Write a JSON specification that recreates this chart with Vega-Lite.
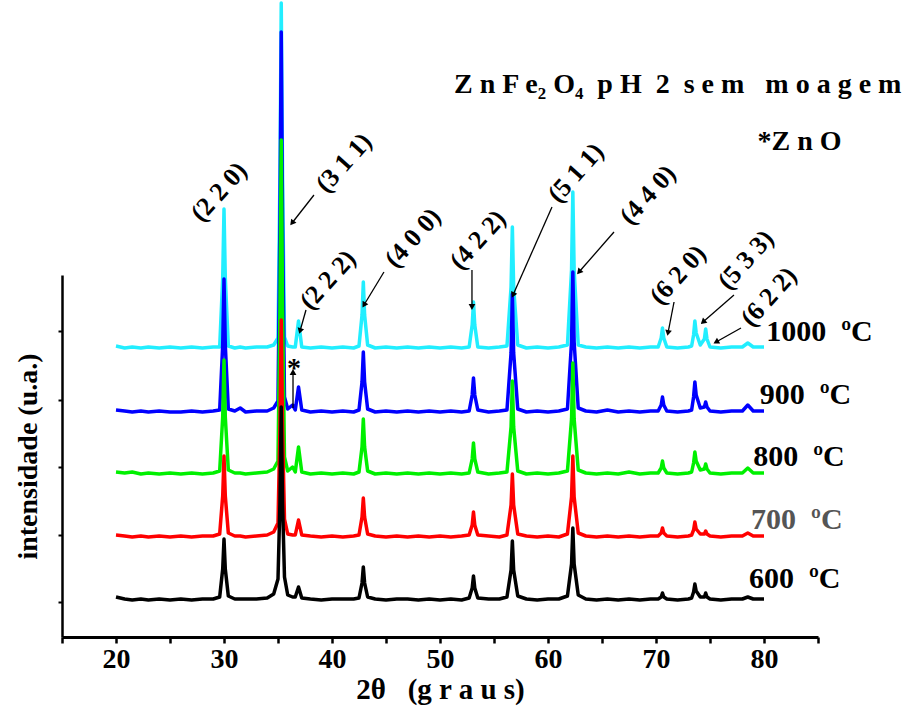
{
  "$schema": "https://vega.github.io/schema/vega-lite/v6.json",
  "width": 756,
  "height": 362,
  "autosize": {"type": "none"},
  "padding": {"left": 62, "top": 275, "right": 98, "bottom": 76},
  "background": "white",
  "config": {
    "view": {"stroke": null},
    "font": "Liberation Serif",
    "axisY": {
      "labels": false, "grid": false,
      "domainColor": "black", "domainWidth": 2.5,
      "tickColor": "black", "tickWidth": 2, "tickSize": 4,
      "titleFont": "Liberation Serif", "titleFontSize": 28, "titleFontWeight": "bold", "titleColor": "black",
      "titlePadding": 15
    }
  },
  "datasets": {
    "xrd": [
      {"x": 20.0, "c": 291, "b": 227, "g": 165, "r": 102, "k": 40},
      {"x": 20.8, "c": 289, "b": 226, "g": 164, "r": 101, "k": 38},
      {"x": 21.5, "c": 290, "b": 225, "g": 165, "r": 100, "k": 37},
      {"x": 22.3, "c": 289, "b": 226, "g": 163, "r": 101, "k": 38},
      {"x": 23.0, "c": 290, "b": 225, "g": 164, "r": 100, "k": 37},
      {"x": 24.0, "c": 289, "b": 226, "g": 163, "r": 101, "k": 38},
      {"x": 25.0, "c": 290, "b": 225, "g": 164, "r": 100, "k": 37},
      {"x": 26.0, "c": 289, "b": 225, "g": 163, "r": 101, "k": 38},
      {"x": 27.0, "c": 290, "b": 226, "g": 164, "r": 100, "k": 37},
      {"x": 28.0, "c": 289, "b": 225, "g": 163, "r": 101, "k": 38},
      {"x": 29.0, "c": 290, "b": 226, "g": 164, "r": 101, "k": 38},
      {"x": 29.6, "c": 290, "b": 227, "g": 166, "r": 103, "k": 40},
      {"x": 29.88, "c": 359, "b": 292, "g": 220, "r": 141, "k": 68},
      {"x": 30.0, "c": 428, "b": 358, "g": 277, "r": 181, "k": 98},
      {"x": 30.12, "c": 359, "b": 292, "g": 220, "r": 141, "k": 68},
      {"x": 30.4, "c": 291, "b": 228, "g": 167, "r": 104, "k": 41},
      {"x": 31.0, "c": 289, "b": 226, "g": 164, "r": 101, "k": 38},
      {"x": 31.5, "c": 290, "b": 229, "g": 164, "r": 101, "k": 38},
      {"x": 32.0, "c": 289, "b": 225, "g": 163, "r": 100, "k": 38},
      {"x": 33.0, "c": 290, "b": 226, "g": 164, "r": 101, "k": 38},
      {"x": 34.0, "c": 290, "b": 226, "g": 165, "r": 102, "k": 39},
      {"x": 34.6, "c": 292, "b": 229, "g": 168, "r": 105, "k": 43},
      {"x": 35.0, "c": 299, "b": 236, "g": 176, "r": 114, "k": 58},
      {"x": 35.18, "c": 461, "b": 415, "g": 330, "r": 208, "k": 134},
      {"x": 35.3, "c": 634, "b": 605, "g": 497, "r": 317, "k": 230},
      {"x": 35.42, "c": 461, "b": 415, "g": 330, "r": 208, "k": 134},
      {"x": 35.6, "c": 300, "b": 240, "g": 180, "r": 118, "k": 60},
      {"x": 35.9, "c": 291, "b": 228, "g": 166, "r": 103, "k": 42},
      {"x": 36.35, "c": 290, "b": 232, "g": 170, "r": 102, "k": 40},
      {"x": 36.6, "c": 290, "b": 227, "g": 165, "r": 102, "k": 40},
      {"x": 36.9, "c": 316, "b": 250, "g": 190, "r": 117, "k": 50},
      {"x": 37.2, "c": 290, "b": 227, "g": 165, "r": 102, "k": 39},
      {"x": 38.0, "c": 289, "b": 225, "g": 163, "r": 101, "k": 38},
      {"x": 39.0, "c": 290, "b": 226, "g": 164, "r": 100, "k": 37},
      {"x": 40.0, "c": 289, "b": 225, "g": 163, "r": 101, "k": 38},
      {"x": 41.0, "c": 290, "b": 226, "g": 164, "r": 100, "k": 38},
      {"x": 42.0, "c": 289, "b": 225, "g": 163, "r": 101, "k": 38},
      {"x": 42.5, "c": 291, "b": 227, "g": 165, "r": 102, "k": 39},
      {"x": 42.78, "c": 322, "b": 255, "g": 190, "r": 120, "k": 54},
      {"x": 42.9, "c": 355, "b": 285, "g": 218, "r": 139, "k": 70},
      {"x": 43.02, "c": 322, "b": 255, "g": 190, "r": 120, "k": 54},
      {"x": 43.3, "c": 292, "b": 228, "g": 166, "r": 103, "k": 40},
      {"x": 44.0, "c": 289, "b": 225, "g": 163, "r": 101, "k": 38},
      {"x": 45.0, "c": 290, "b": 226, "g": 164, "r": 100, "k": 37},
      {"x": 46.0, "c": 289, "b": 225, "g": 163, "r": 101, "k": 38},
      {"x": 47.0, "c": 290, "b": 226, "g": 164, "r": 100, "k": 38},
      {"x": 48.0, "c": 289, "b": 225, "g": 163, "r": 101, "k": 37},
      {"x": 49.0, "c": 290, "b": 226, "g": 164, "r": 100, "k": 38},
      {"x": 50.0, "c": 289, "b": 225, "g": 163, "r": 101, "k": 37},
      {"x": 51.0, "c": 290, "b": 226, "g": 164, "r": 100, "k": 38},
      {"x": 52.0, "c": 289, "b": 225, "g": 163, "r": 101, "k": 37},
      {"x": 52.7, "c": 290, "b": 226, "g": 164, "r": 102, "k": 39},
      {"x": 52.98, "c": 312, "b": 242, "g": 178, "r": 112, "k": 49},
      {"x": 53.1, "c": 335, "b": 259, "g": 194, "r": 125, "k": 61},
      {"x": 53.22, "c": 312, "b": 242, "g": 178, "r": 112, "k": 49},
      {"x": 53.5, "c": 290, "b": 227, "g": 165, "r": 102, "k": 39},
      {"x": 54.5, "c": 289, "b": 225, "g": 163, "r": 101, "k": 38},
      {"x": 55.5, "c": 290, "b": 226, "g": 164, "r": 100, "k": 38},
      {"x": 56.2, "c": 291, "b": 227, "g": 165, "r": 102, "k": 40},
      {"x": 56.58, "c": 350, "b": 284, "g": 210, "r": 132, "k": 67},
      {"x": 56.7, "c": 410, "b": 343, "g": 256, "r": 163, "k": 96},
      {"x": 56.82, "c": 350, "b": 284, "g": 210, "r": 132, "k": 67},
      {"x": 57.2, "c": 292, "b": 228, "g": 166, "r": 103, "k": 41},
      {"x": 58.0, "c": 289, "b": 225, "g": 163, "r": 101, "k": 38},
      {"x": 59.0, "c": 290, "b": 226, "g": 164, "r": 100, "k": 37},
      {"x": 60.0, "c": 289, "b": 225, "g": 163, "r": 101, "k": 38},
      {"x": 61.0, "c": 290, "b": 226, "g": 164, "r": 100, "k": 38},
      {"x": 61.8, "c": 292, "b": 228, "g": 166, "r": 103, "k": 41},
      {"x": 62.18, "c": 367, "b": 295, "g": 218, "r": 140, "k": 73},
      {"x": 62.3, "c": 445, "b": 365, "g": 274, "r": 181, "k": 109},
      {"x": 62.42, "c": 367, "b": 295, "g": 218, "r": 140, "k": 73},
      {"x": 62.8, "c": 292, "b": 229, "g": 167, "r": 104, "k": 42},
      {"x": 63.5, "c": 290, "b": 226, "g": 164, "r": 101, "k": 38},
      {"x": 64.5, "c": 289, "b": 225, "g": 163, "r": 100, "k": 37},
      {"x": 65.5, "c": 290, "b": 227, "g": 164, "r": 101, "k": 38},
      {"x": 66.5, "c": 289, "b": 225, "g": 163, "r": 100, "k": 37},
      {"x": 67.5, "c": 290, "b": 226, "g": 165, "r": 101, "k": 38},
      {"x": 68.5, "c": 289, "b": 225, "g": 163, "r": 100, "k": 37},
      {"x": 69.5, "c": 290, "b": 226, "g": 164, "r": 101, "k": 38},
      {"x": 70.2, "c": 290, "b": 226, "g": 164, "r": 101, "k": 38},
      {"x": 70.48, "c": 299, "b": 232, "g": 169, "r": 104, "k": 40},
      {"x": 70.6, "c": 309, "b": 240, "g": 176, "r": 109, "k": 44},
      {"x": 70.72, "c": 299, "b": 232, "g": 169, "r": 104, "k": 40},
      {"x": 71.0, "c": 290, "b": 226, "g": 164, "r": 101, "k": 38},
      {"x": 72.0, "c": 289, "b": 225, "g": 163, "r": 100, "k": 37},
      {"x": 73.0, "c": 290, "b": 226, "g": 164, "r": 101, "k": 38},
      {"x": 73.3, "c": 291, "b": 227, "g": 165, "r": 102, "k": 39},
      {"x": 73.48, "c": 302, "b": 240, "g": 174, "r": 107, "k": 45},
      {"x": 73.6, "c": 316, "b": 255, "g": 185, "r": 115, "k": 53},
      {"x": 73.72, "c": 304, "b": 242, "g": 176, "r": 108, "k": 46},
      {"x": 74.1, "c": 292, "b": 229, "g": 167, "r": 103, "k": 40},
      {"x": 74.48, "c": 298, "b": 230, "g": 168, "r": 103, "k": 40},
      {"x": 74.6, "c": 308, "b": 235, "g": 173, "r": 106, "k": 44},
      {"x": 74.72, "c": 298, "b": 230, "g": 168, "r": 103, "k": 40},
      {"x": 75.0, "c": 290, "b": 226, "g": 164, "r": 101, "k": 38},
      {"x": 76.0, "c": 289, "b": 225, "g": 163, "r": 100, "k": 37},
      {"x": 77.0, "c": 290, "b": 226, "g": 164, "r": 101, "k": 38},
      {"x": 78.0, "c": 290, "b": 226, "g": 164, "r": 101, "k": 38},
      {"x": 78.5, "c": 294, "b": 232, "g": 169, "r": 104, "k": 40},
      {"x": 79.0, "c": 290, "b": 226, "g": 164, "r": 101, "k": 38},
      {"x": 80.0, "c": 290, "b": 226, "g": 164, "r": 101, "k": 38}
    ],
    "miller": [
      {"x": 29.54, "y": 445, "text": "(2 2 0)"},
      {"x": 41.11, "y": 474, "text": "(3 1 1)"},
      {"x": 39.63, "y": 357, "text": "(2 2 2)"},
      {"x": 47.5, "y": 399, "text": "(4 0 0)"},
      {"x": 53.52, "y": 397, "text": "(4 2 2)"},
      {"x": 62.59, "y": 464, "text": "(5 1 1)"},
      {"x": 69.26, "y": 442, "text": "(4 4 0)"},
      {"x": 72.04, "y": 362, "text": "(6 2 0)"},
      {"x": 78.33, "y": 377, "text": "(5 3 3)"},
      {"x": 80.46, "y": 340, "text": "(6 2 2)"}
    ],
    "arrows": [
      {"x": 38.33, "y": 442, "x2": 36.3, "y2": 414, "angle": -142},
      {"x": 37.59, "y": 327, "x2": 37.04, "y2": 306, "angle": -164},
      {"x": 44.81, "y": 365, "x2": 42.96, "y2": 332, "angle": -149},
      {"x": 52.96, "y": 367, "x2": 52.96, "y2": 330, "angle": 180},
      {"x": 60.37, "y": 430, "x2": 56.76, "y2": 342, "angle": -156},
      {"x": 66.11, "y": 405, "x2": 62.87, "y2": 365, "angle": -139},
      {"x": 71.67, "y": 335, "x2": 71.11, "y2": 304, "angle": -169},
      {"x": 77.22, "y": 342, "x2": 74.35, "y2": 315, "angle": -131},
      {"x": 77.87, "y": 309, "x2": 75.56, "y2": 295, "angle": -119},
      {"x": 36.39, "y": 229, "x2": 36.39, "y2": 265, "angle": 0}
    ],
    "temps": [
      {"x": 80.2, "y": 296, "text": "1000\u00a0 ºC"},
      {"x": 79.6, "y": 233, "text": "900\u00a0 ºC"},
      {"x": 79.0, "y": 171, "text": "800\u00a0 ºC"},
      {"x": 78.8, "y": 108, "text": "700\u00a0 ºC"},
      {"x": 78.6, "y": 49, "text": "600\u00a0 ºC"}
    ],
    "notes": [
      {"x": 51.3, "y": 544, "text": "Z n F e₂ O₄\u00a0 p H\u00a0 2\u00a0 s e m\u00a0\u00a0 m o a g e m"},
      {"x": 79.4, "y": 487, "text": "*Z n O"}
    ],
    "star": [
      {"x": 36.48, "y": 268, "text": "*"}
    ]
  },
  "layer": [
    {
      "data": {"name": "xrd"},
      "mark": {"type": "line", "color": "#22EEFF", "strokeWidth": 3.5, "strokeJoin": "round"},
      "encoding": {
        "x": {
          "field": "x", "type": "quantitative",
          "scale": {"domain": [15, 85], "nice": false, "zero": false},
          "axis": {
            "title": "2θ\u00a0\u00a0 (g r a u s)",
            "values": [15, 20, 25, 30, 35, 40, 45, 50, 55, 60, 65, 70, 75, 80, 85],
            "labelExpr": "(datum.value % 10 == 0 && datum.value >= 20 && datum.value <= 80) ? datum.label : ''",
            "grid": false,
            "domainColor": "black", "domainWidth": 3,
            "tickColor": "black", "tickWidth": 2.5, "tickSize": 6,
            "labelFont": "Liberation Serif", "labelFontSize": 28, "labelFontWeight": "bold", "labelColor": "black",
            "labelPadding": 2, "labelFlush": false, "labelOverlap": false,
            "titleFont": "Liberation Serif", "titleFontSize": 29, "titleFontWeight": "bold", "titleColor": "black",
            "titlePadding": 2
          }
        },
        "y": {
          "field": "c", "type": "quantitative",
          "scale": {"domain": [0, 362], "nice": false, "zero": false},
          "axis": {"title": "intensidade (u.a.)", "values": [35, 102, 170, 237, 306]}
        }
      }
    },
    {
      "data": {"name": "xrd"},
      "mark": {"type": "line", "color": "#0000FF", "strokeWidth": 3.5, "strokeJoin": "round"},
      "encoding": {
        "x": {"field": "x", "type": "quantitative"},
        "y": {"field": "b", "type": "quantitative", "axis": {"title": "intensidade (u.a.)", "values": [35, 102, 170, 237, 306]}}
      }
    },
    {
      "data": {"name": "xrd"},
      "mark": {"type": "line", "color": "#00F000", "strokeWidth": 3.5, "strokeJoin": "round"},
      "encoding": {
        "x": {"field": "x", "type": "quantitative"},
        "y": {"field": "g", "type": "quantitative", "axis": {"title": "intensidade (u.a.)", "values": [35, 102, 170, 237, 306]}}
      }
    },
    {
      "data": {"name": "xrd"},
      "mark": {"type": "line", "color": "#FF0000", "strokeWidth": 3.5, "strokeJoin": "round"},
      "encoding": {
        "x": {"field": "x", "type": "quantitative"},
        "y": {"field": "r", "type": "quantitative", "axis": {"title": "intensidade (u.a.)", "values": [35, 102, 170, 237, 306]}}
      }
    },
    {
      "data": {"name": "xrd"},
      "mark": {"type": "line", "color": "#000000", "strokeWidth": 3.5, "strokeJoin": "round"},
      "encoding": {
        "x": {"field": "x", "type": "quantitative"},
        "y": {"field": "k", "type": "quantitative", "axis": {"title": "intensidade (u.a.)", "values": [35, 102, 170, 237, 306]}}
      }
    },
    {
      "data": {"name": "arrows"},
      "mark": {"type": "rule", "color": "black", "strokeWidth": 1.3},
      "encoding": {
        "x": {"field": "x", "type": "quantitative"},
        "y": {"field": "y", "type": "quantitative", "axis": {"title": "intensidade (u.a.)", "values": [35, 102, 170, 237, 306]}},
        "x2": {"field": "x2"},
        "y2": {"field": "y2"}
      }
    },
    {
      "data": {"name": "arrows"},
      "mark": {"type": "point", "shape": "triangle-up", "filled": true, "color": "black", "size": 45, "opacity": 1},
      "encoding": {
        "x": {"field": "x2", "type": "quantitative"},
        "y": {"field": "y2", "type": "quantitative", "axis": {"title": "intensidade (u.a.)", "values": [35, 102, 170, 237, 306]}},
        "angle": {"field": "angle", "type": "quantitative", "scale": null}
      }
    },
    {
      "data": {"name": "miller"},
      "mark": {"type": "text", "font": "Liberation Serif", "fontSize": 26, "fontWeight": "bold", "angle": -48, "align": "center", "baseline": "middle", "color": "black"},
      "encoding": {
        "x": {"field": "x", "type": "quantitative"},
        "y": {"field": "y", "type": "quantitative", "axis": {"title": "intensidade (u.a.)", "values": [35, 102, 170, 237, 306]}},
        "text": {"field": "text"}
      }
    },
    {
      "data": {"name": "temps"},
      "mark": {"type": "text", "font": "Liberation Serif", "fontSize": 30, "fontWeight": "bold", "align": "left", "baseline": "alphabetic"},
      "encoding": {
        "x": {"field": "x", "type": "quantitative"},
        "y": {"field": "y", "type": "quantitative", "axis": {"title": "intensidade (u.a.)", "values": [35, 102, 170, 237, 306]}},
        "text": {"field": "text"},
        "color": {"condition": {"test": "indexof(datum.text, '7') == 0", "value": "#555555"}, "value": "black"}
      }
    },
    {
      "data": {"name": "notes"},
      "mark": {"type": "text", "font": "Liberation Serif", "fontSize": 28, "fontWeight": "bold", "align": "left", "baseline": "alphabetic", "color": "black"},
      "encoding": {
        "x": {"field": "x", "type": "quantitative"},
        "y": {"field": "y", "type": "quantitative", "axis": {"title": "intensidade (u.a.)", "values": [35, 102, 170, 237, 306]}},
        "text": {"field": "text"}
      }
    },
    {
      "data": {"name": "star"},
      "mark": {"type": "text", "font": "Liberation Serif", "fontSize": 28, "fontWeight": "bold", "align": "center", "baseline": "middle", "color": "black"},
      "encoding": {
        "x": {"field": "x", "type": "quantitative"},
        "y": {"field": "y", "type": "quantitative", "axis": {"title": "intensidade (u.a.)", "values": [35, 102, 170, 237, 306]}},
        "text": {"field": "text"}
      }
    }
  ]
}
